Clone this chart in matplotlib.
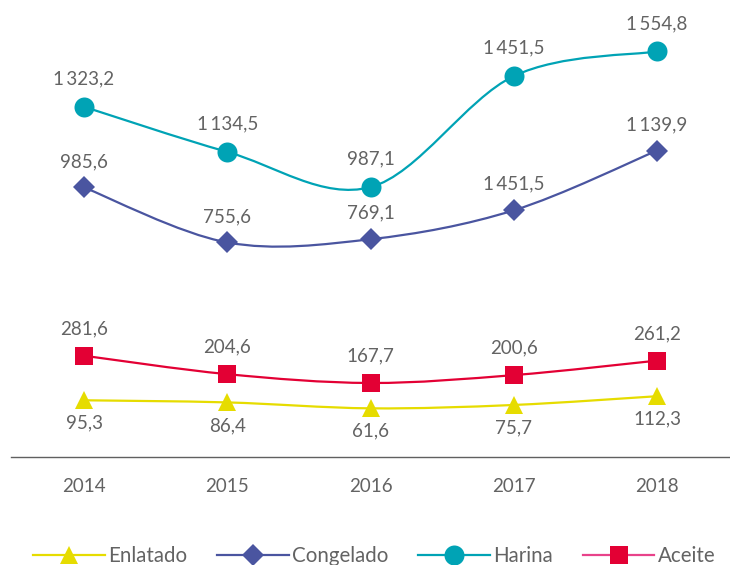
import matplotlib
matplotlib.use("Agg")
import matplotlib.pyplot as plt
from matplotlib.path import Path
from matplotlib.patches import PathPatch
from matplotlib.lines import Line2D
import numpy as np

plt.rcParams['font.family'] = ['Lato', 'DejaVu Sans']

years = ['2014', '2015', '2016', '2017', '2018']
enlatado = [95.3, 86.4, 61.6, 75.7, 112.3]
congelado = [985.6, 755.6, 769.1, 890.0, 1139.9]
harina = [1323.2, 1134.5, 987.1, 1451.5, 1554.8]
aceite = [281.6, 204.6, 167.7, 200.6, 261.2]

enlatado_lbl = ['95,3', '86,4', '61,6', '75,7', '112,3']
congelado_lbl = ['985,6', '755,6', '769,1', '1\u2009451,5', '1\u2009139,9']
harina_lbl = ['1\u2009323,2', '1\u2009134,5', '987,1', '1\u2009451,5', '1\u2009554,8']
aceite_lbl = ['281,6', '204,6', '167,7', '200,6', '261,2']

C_ENL = '#E6DC00'
C_CON = '#4A55A0'
C_HAR = '#00A3B5'
C_ACE = '#E30034'
C_ACE_LEG = '#E8428A'
TXT = '#636363'
FS = 13.5

W, H = 730, 565
fig = plt.figure(figsize=(W / 100, H / 100), dpi=100)
ax = fig.add_axes([11 / W, (H - 457) / H, 719 / W, 457 / H])
ax.set_xlim(-0.51, 4.51)
ax.set_ylim(-142, 1770)


def smooth(ax, ys, color):
    x = np.arange(len(ys), dtype=float)
    y = np.asarray(ys, dtype=float)
    n = len(x)
    verts = [(x[0], y[0])]
    codes = [Path.MOVETO]
    for i in range(n - 1):
        p0 = i - 1 if i > 0 else i
        p3 = i + 2 if i + 2 < n else i + 1
        c1 = (x[i] + (x[i + 1] - x[p0]) / 6, y[i] + (y[i + 1] - y[p0]) / 6)
        c2 = (x[i + 1] - (x[p3] - x[i]) / 6, y[i + 1] - (y[p3] - y[i]) / 6)
        verts += [c1, c2, (x[i + 1], y[i + 1])]
        codes += [Path.CURVE4] * 3
    ax.add_patch(PathPatch(Path(verts, codes), fill=False, edgecolor=color,
                           lw=1.6, zorder=2))


series = [
    (enlatado, enlatado_lbl, C_ENL, '^', 13, -23),
    (aceite, aceite_lbl, C_ACE, 's', 12.7, 27),
    (congelado, congelado_lbl, C_CON, 'D', 11.2, 26),
    (harina, harina_lbl, C_HAR, 'o', 14.4, 28),
]
xs = np.arange(len(years))
for vals, lbls, col, mk, ms, off in series:
    smooth(ax, vals, col)
    ax.plot(xs, vals, linestyle='none', marker=mk, markersize=ms,
            color=col, markeredgewidth=0, zorder=3)
    for xi, v, t in zip(xs, vals, lbls):
        ax.annotate(t, (xi, v), xytext=(0, off * 0.72), textcoords='offset points',
                    ha='center', va='center', fontsize=FS, color=TXT)

for s in ['top', 'right', 'left']:
    ax.spines[s].set_visible(False)
ax.spines['bottom'].set_position(('data', -142))
ax.spines['bottom'].set_color('#606060')
ax.spines['bottom'].set_linewidth(1.0)
ax.set_yticks([])
ax.set_xticks(xs)
ax.set_xticklabels(years, fontsize=FS, color=TXT)
ax.tick_params(axis='x', length=0, pad=15)

handles = [
    Line2D([], [], color=C_ENL, lw=1.6, marker='^', markersize=13, markeredgewidth=0),
    Line2D([], [], color=C_CON, lw=1.6, marker='D', markersize=11.2, markeredgewidth=0),
    Line2D([], [], color=C_HAR, lw=1.6, marker='o', markersize=14.4, markeredgewidth=0),
    Line2D([], [], color=C_ACE_LEG, lw=1.6, marker='s', markersize=12.7,
           markerfacecolor=C_ACE, markeredgewidth=0),
]
leg = fig.legend(handles, ['Enlatado', 'Congelado', 'Harina', 'Aceite'],
                 loc='center', bbox_to_anchor=(374 / W, (H - 556) / H),
                 ncol=4, frameon=False, fontsize=14.8, handlelength=3.5,
                 handletextpad=0.15, columnspacing=1.45, borderpad=0)
for t in leg.get_texts():
    t.set_color(TXT)

fig.savefig('out.png', dpi=100)
